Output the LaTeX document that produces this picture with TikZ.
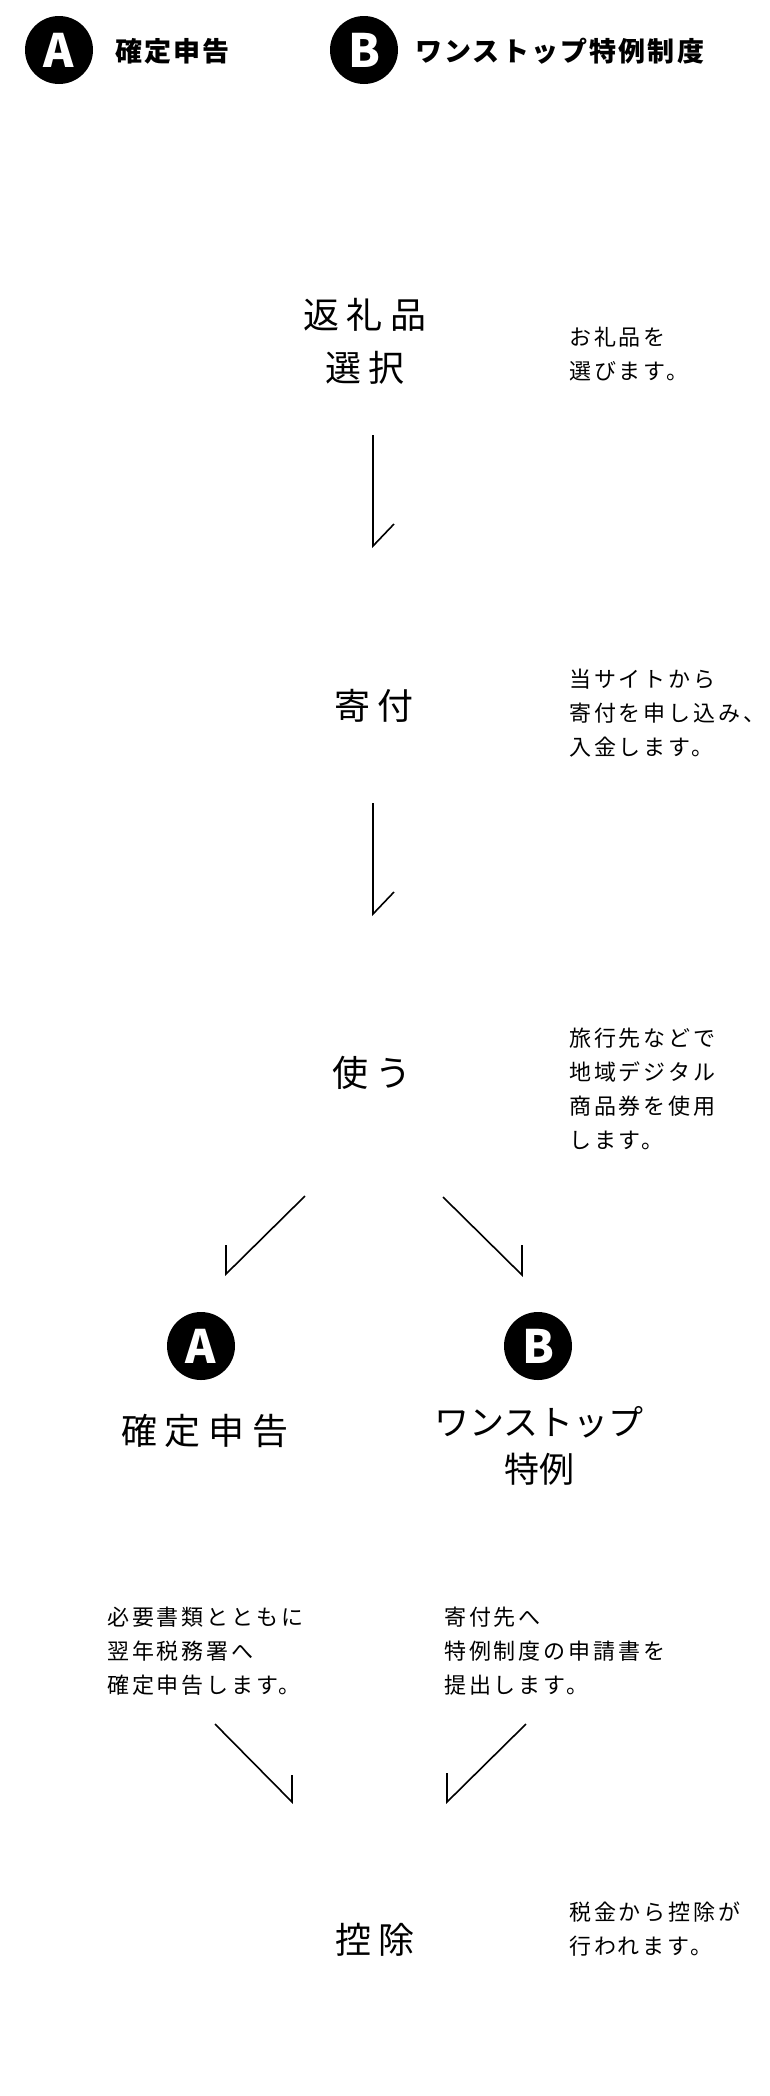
\documentclass[tikz,border=0pt]{standalone}
\usepackage{fontspec}
\newfontfamily\jp{Noto Sans CJK JP}
\newfontfamily\jpd[LetterSpace=13]{Noto Sans CJK JP}
\newfontfamily\jph[LetterSpace=8]{Noto Sans CJK JP}
\newcommand\tk{\hspace{8pt}}
\tikzset{
  big/.style={font=\jp\fontsize{36}{53}\selectfont, align=center, inner sep=0pt},
  bign/.style={font=\jp\fontsize{35}{47}\selectfont, align=center, inner sep=0pt},
  desc/.style={font=\jpd\fontsize{22}{34}\selectfont, align=left, anchor=west, inner sep=0pt},
  badge/.style={circle, fill=black, minimum size=68pt, inner sep=0pt, text=white,
    font=\jp\bfseries\fontsize{46}{46}\selectfont},
  hd/.style={font=\jph\bfseries\fontsize{27}{27}\selectfont, anchor=west, inner sep=0pt},
  arr/.style={line width=1.6pt, line join=miter}
}
\begin{document}
\begin{tikzpicture}[x=1pt,y=-1pt]
\useasboundingbox[fill=white] (0,0) rectangle (770,2096);
% header legend
\node[badge] (hA) at (59,50) {A};
\node[hd] (hAt) at (115,51) {確定申告};
\node[badge] (hB) at (364,50) {B};
\node[hd] (hBt) at (415,51) {ワンストップ特例制度};
% step 1
\node[big] (n1) at (365,341) {返\tk 礼\tk 品\\選\tk 択};
\node[desc] (d1) at (569,354) {お礼品を\\選びます。};
\coordinate (a1s) at (373,435);
\coordinate (a1e) at (373,546);
\coordinate (a1h) at (394,524);
\draw[arr] (a1s) -- (a1e) -- (a1h);
% step 2
\node[big] (n2) at (374,706) {寄\tk 付};
\node[desc] (d2) at (569,713) {当サイトから\\寄付を申し込み、\\入金します。};
\coordinate (a2s) at (373,803);
\coordinate (a2e) at (373,914);
\coordinate (a2h) at (394,892);
\draw[arr] (a2s) -- (a2e) -- (a2h);
% step 3
\node[big] (n3) at (372,1073) {使\tk う};
\node[desc] (d3) at (569,1089) {旅行先などで\\地域デジタル\\商品券を使用\\します。};
\coordinate (lAs) at (305,1196);
\coordinate (lAe) at (226,1274);
\coordinate (lAh) at (226,1245);
\draw[arr] (lAs) -- (lAe) -- (lAh);
\coordinate (lBs) at (443,1197);
\coordinate (lBe) at (522,1275);
\coordinate (lBh) at (522,1245);
\draw[arr] (lBs) -- (lBe) -- (lBh);
% branches
\node[badge] (cA) at (201,1346) {A};
\node[badge] (cB) at (538,1346) {B};
\node[big] (lA) at (205,1431) {確\tk 定\tk 申\tk 告};
\node[bign] (lB) at (539,1446) {ワンストップ\\特例};
\node[desc] (dA) at (107,1651) {必要書類とともに\\翌年税務署へ\\確定申告します。};
\node[desc] (dB) at (444,1651) {寄付先へ\\特例制度の申請書を\\提出します。};
\coordinate (mAs) at (215,1724);
\coordinate (mAe) at (292,1802);
\coordinate (mAh) at (292,1775);
\draw[arr] (mAs) -- (mAe) -- (mAh);
\coordinate (mBs) at (526,1724);
\coordinate (mBe) at (447,1802);
\coordinate (mBh) at (447,1773);
\draw[arr] (mBs) -- (mBe) -- (mBh);
% step 5
\node[big] (n5) at (375,1940) {控\tk 除};
\node[desc] (d5) at (569,1929) {税金から控除が\\行われます。};
\end{tikzpicture}
\end{document}
